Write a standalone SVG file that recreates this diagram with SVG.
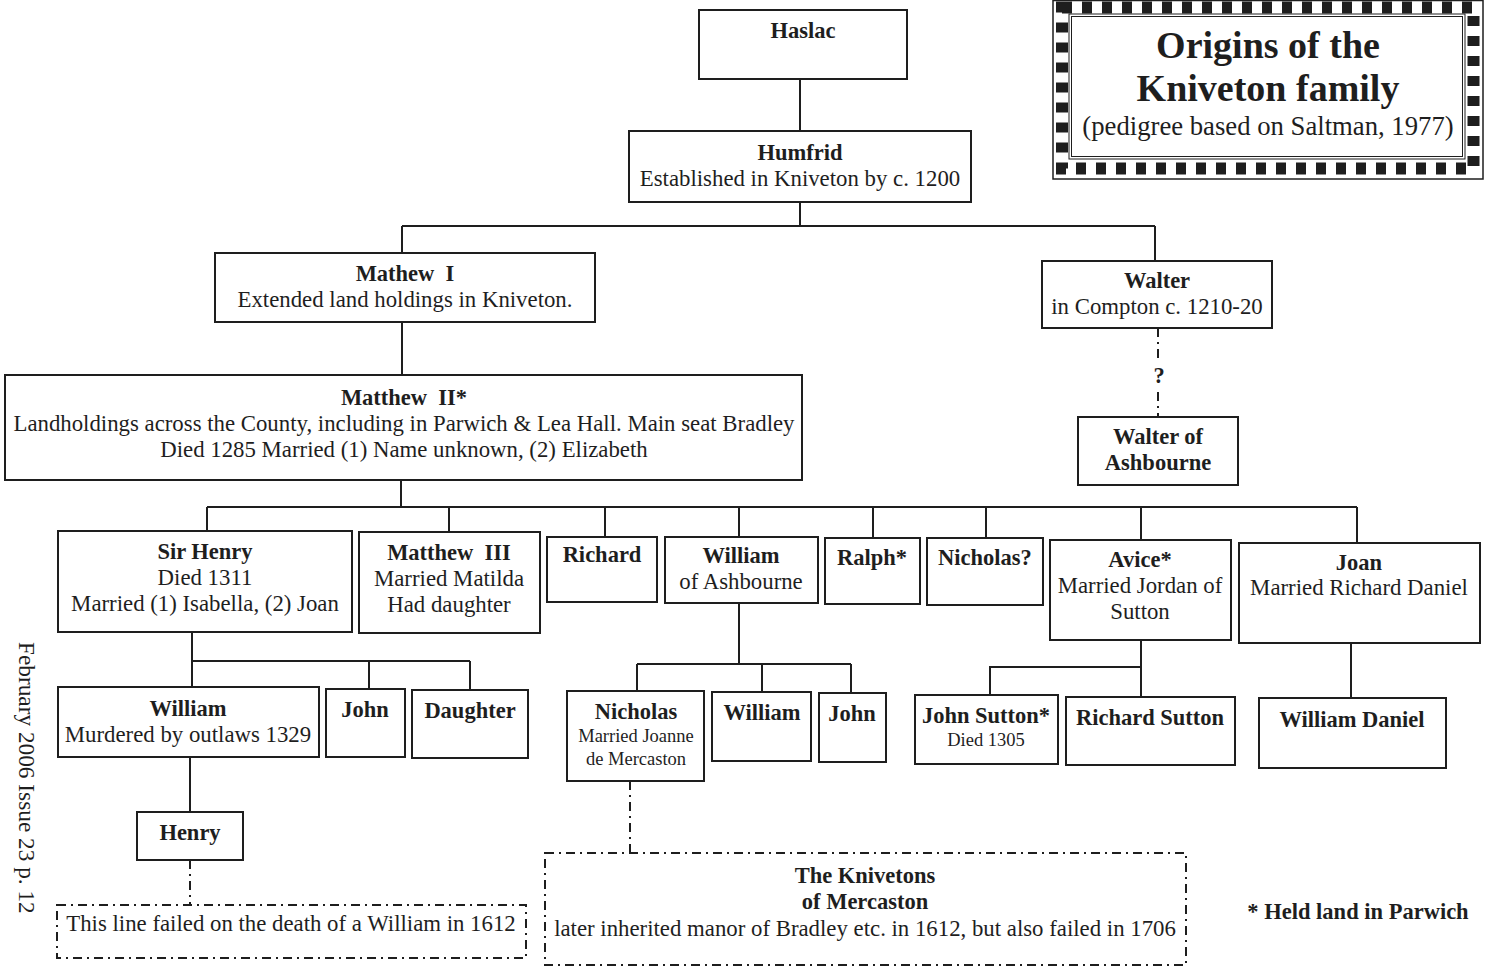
<svg xmlns="http://www.w3.org/2000/svg" width="1489" height="968" viewBox="0 0 1489 968">
<style>
.b{fill:#fff;stroke:#1e1e1e;stroke-width:2}
.l{fill:none;stroke:#1e1e1e;stroke-width:2}
.d{stroke-dasharray:9 5 2 5}
text{font-family:"Liberation Serif","Times New Roman",serif;font-size:22.8px;fill:#1e1e1e;text-anchor:middle}
.h{font-weight:bold;font-size:22.5px}
.s{font-size:18.5px}
</style>
<rect width="1489" height="968" fill="#fff"/>
<g id="title">
<rect x="1053" y="0.5" width="430" height="178.5" fill="#fff" stroke="#1e1e1e" stroke-width="1.5"/>
<rect x="1062" y="7.5" width="411.5" height="161" fill="none" stroke="#1e1e1e" stroke-width="12" stroke-dasharray="10 10"/>
<rect x="1069" y="14" width="396" height="145" fill="none" stroke="#1e1e1e" stroke-width="1"/>
<rect x="1071.5" y="16.5" width="391" height="140" fill="none" stroke="#1e1e1e" stroke-width="1"/>
<text x="1268" y="58" class="h" style="font-size:38px">Origins of the</text>
<text x="1268" y="101" class="h" style="font-size:38px">Kniveton family</text>
<text x="1268" y="135" style="font-size:26.7px">(pedigree based on Saltman, 1977)</text>
</g>
<g id="connectors">
<path class="l" d="M800 79V131M800 202V226M402 226H1155M402 226V253M1155 226V261"/>
<path class="l" d="M402 322V375M401 480V507M207 507H1357M207 507V531M449 507V532M605 507V537M739 507V537M873 507V538M986 507V538M1141 507V540M1357 507V543"/>
<path class="l" d="M192 632V661H470M192 661V687M369 661V689M470 661V690M190 757V812"/>
<path class="l" d="M739 603V664M637 664H851M637 664V691M762 664V692M851 664V693"/>
<path class="l" d="M1141 640V667H990V695M1141 667V697M1351 643V698"/>
<path class="l d" d="M1158 328V360M1158 392V417M190 860V905M630 781V853"/>
<text x="1159" y="383" class="h">?</text>
</g>
<g id="haslac"><rect class="b" x="699" y="10" width="208" height="69"/><text x="803" y="38" class="h">Haslac</text></g>
<g id="humfrid"><rect class="b" x="629" y="131" width="342" height="71"/><text x="800" y="160" class="h">Humfrid</text><text x="800" y="186">Established in Kniveton by c. 1200</text></g>
<g id="mathew1"><rect class="b" x="215" y="253" width="380" height="69"/><text x="405" y="281" class="h" xml:space="preserve">Mathew  I</text><text x="405" y="307">Extended land holdings in Kniveton.</text></g>
<g id="walter"><rect class="b" x="1042" y="261" width="230" height="67"/><text x="1157" y="288" class="h">Walter</text><text x="1157" y="314">in Compton c. 1210-20</text></g>
<g id="walter-ashbourne"><rect class="b" x="1078" y="417" width="160" height="68"/><text x="1158" y="444" class="h">Walter of</text><text x="1158" y="470" class="h">Ashbourne</text></g>
<g id="matthew2"><rect class="b" x="5" y="375" width="797" height="105"/><text x="404" y="405" class="h" xml:space="preserve">Matthew  II*</text><text x="404" y="431">Landholdings across the County, including in Parwich &amp; Lea Hall. Main seat Bradley</text><text x="404" y="457">Died 1285 Married (1) Name unknown, (2) Elizabeth</text></g>
<g id="sir-henry"><rect class="b" x="58" y="531" width="294" height="101"/><text x="205" y="559" class="h">Sir Henry</text><text x="205" y="585">Died 1311</text><text x="205" y="611">Married (1) Isabella, (2) Joan</text></g>
<g id="matthew3"><rect class="b" x="359" y="532" width="181" height="101"/><text x="449" y="560" class="h" xml:space="preserve">Matthew  III</text><text x="449" y="586">Married Matilda</text><text x="449" y="612">Had daughter</text></g>
<g id="richard"><rect class="b" x="547" y="537" width="110" height="65"/><text x="602" y="562" class="h">Richard</text></g>
<g id="william-ashbourne"><rect class="b" x="665" y="537" width="153" height="66"/><text x="741" y="563" class="h">William</text><text x="741" y="589">of Ashbourne</text></g>
<g id="ralph"><rect class="b" x="825" y="538" width="95" height="66"/><text x="872" y="565" class="h">Ralph*</text></g>
<g id="nicholas-q"><rect class="b" x="927" y="538" width="116" height="67"/><text x="985" y="565" class="h">Nicholas?</text></g>
<g id="avice"><rect class="b" x="1050" y="540" width="181" height="100"/><text x="1140" y="567" class="h">Avice*</text><text x="1140" y="593">Married Jordan of</text><text x="1140" y="619">Sutton</text></g>
<g id="joan"><rect class="b" x="1239" y="543" width="241" height="100"/><text x="1359" y="570" class="h">Joan</text><text x="1359" y="595">Married Richard Daniel</text></g>
<g id="william"><rect class="b" x="58" y="687" width="261" height="70"/><text x="188" y="716" class="h">William</text><text x="188" y="742">Murdered by outlaws 1329</text></g>
<g id="john1"><rect class="b" x="326" y="689" width="79" height="68"/><text x="365" y="717" class="h">John</text></g>
<g id="daughter"><rect class="b" x="412" y="690" width="116" height="68"/><text x="470" y="718" class="h">Daughter</text></g>
<g id="henry"><rect class="b" x="137" y="812" width="106" height="48"/><text x="190" y="840" class="h">Henry</text></g>
<g id="line-failed"><rect class="b d" x="57" y="905" width="469" height="53"/><text x="291" y="931">This line failed on the death of a William in 1612</text></g>
<g id="nicholas"><rect class="b" x="567" y="691" width="137" height="90"/><text x="636" y="719" class="h">Nicholas</text><text x="636" y="742" class="s">Married Joanne</text><text x="636" y="765" class="s">de Mercaston</text></g>
<g id="william2"><rect class="b" x="712" y="692" width="99" height="69"/><text x="762" y="720" class="h">William</text></g>
<g id="john2"><rect class="b" x="819" y="693" width="67" height="69"/><text x="852" y="721" class="h">John</text></g>
<g id="mercaston"><rect class="b d" x="545" y="853" width="641" height="112"/><text x="865" y="883" class="h">The Knivetons</text><text x="865" y="909" class="h">of Mercaston</text><text x="865" y="936">later inherited manor of Bradley etc. in 1612, but also failed in 1706</text></g>
<g id="john-sutton"><rect class="b" x="915" y="695" width="143" height="69"/><text x="986" y="723" class="h">John Sutton*</text><text x="986" y="746" class="s">Died 1305</text></g>
<g id="richard-sutton"><rect class="b" x="1066" y="697" width="169" height="68"/><text x="1150" y="725" class="h">Richard Sutton</text></g>
<g id="william-daniel"><rect class="b" x="1259" y="698" width="187" height="70"/><text x="1352" y="727" class="h">William Daniel</text></g>
<text x="1358" y="919" class="h">* Held land in Parwich</text>
<text transform="translate(19 642) rotate(90)" style="text-anchor:start;font-size:23.3px">February 2006 Issue 23 p. 12</text>
</svg>
